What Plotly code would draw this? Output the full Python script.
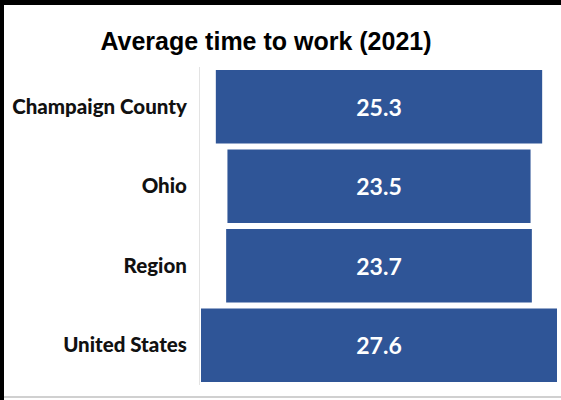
import plotly.graph_objects as go

# Average commute time in minutes, 2021
areas = ["Champaign County", "Ohio", "Region", "United States"]
minutes = [25.3, 23.5, 23.7, 27.6]

bar_color = "#2F5597"

W, H = 561, 400
ml, mr, mt, mb = 200, 3, 67, 15
pw, ph = W - ml - mr, H - mt - mb

fig = go.Figure(
    go.Funnel(
        y=areas,
        x=minutes,
        marker=dict(color=bar_color, line=dict(width=0)),
        connector=dict(visible=False),
        textinfo="value",
        textposition="inside",
        insidetextanchor="middle",
        textfont=dict(family="Lato", size=23, color="white", weight="bold"),
        hoverinfo="skip",
    )
)

half = max(minutes) / 2 * pw / 356.0

def px_to_paper_x(px):
    return (px - ml) / pw

def px_to_paper_y(py):
    return (H - mb - py) / ph

fig.update_layout(
    width=W,
    height=H,
    margin=dict(l=ml, r=mr, t=mt, b=mb),
    paper_bgcolor="white",
    plot_bgcolor="white",
    funnelgap=0.075,
    showlegend=False,
    title=dict(
        text="Average time to work (2021)",
        x=266 / W,
        xanchor="center",
        y=1 - 41 / H,
        yanchor="middle",
        font=dict(family="Liberation Sans", size=25, color="black", weight="bold"),
    ),
    xaxis=dict(
        range=[-half, half],
        visible=False,
        fixedrange=True,
    ),
    yaxis=dict(
        categoryorder="array",
        categoryarray=areas,
        autorange="reversed",
        showline=True,
        linecolor="#e3e3e3",
        linewidth=1,
        showgrid=False,
        ticks="",
        ticklabelstandoff=8,
        tickfont=dict(family="Lato", size=20.5, color="#111111", weight=900),
    ),
    shapes=[
        # dark frame on the left and top edges
        dict(type="rect", xref="paper", yref="paper",
             x0=px_to_paper_x(0), x1=px_to_paper_x(4),
             y0=px_to_paper_y(H), y1=px_to_paper_y(0),
             fillcolor="black", line=dict(width=0), layer="above"),
        dict(type="rect", xref="paper", yref="paper",
             x0=px_to_paper_x(0), x1=px_to_paper_x(W),
             y0=px_to_paper_y(5), y1=px_to_paper_y(0),
             fillcolor="black", line=dict(width=0), layer="above"),
        # light rule along the bottom
        dict(type="line", xref="paper", yref="paper",
             x0=px_to_paper_x(4), x1=px_to_paper_x(W),
             y0=px_to_paper_y(397), y1=px_to_paper_y(397),
             line=dict(color="#d0d0d0", width=2), layer="above"),
    ],
)

fig.write_html("out.html")
